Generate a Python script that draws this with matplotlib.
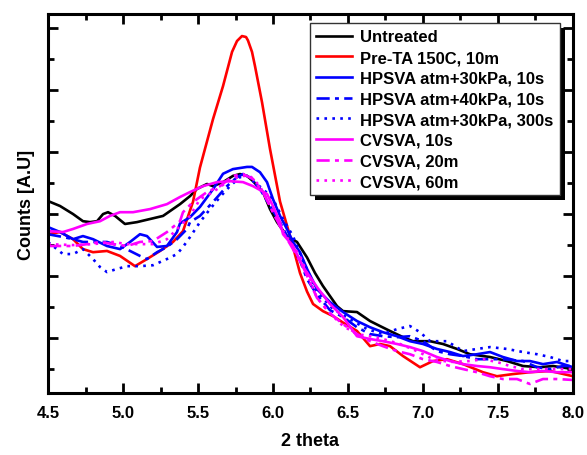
import matplotlib
matplotlib.use("Agg")
import matplotlib.pyplot as plt
from matplotlib.patches import Rectangle
from matplotlib.transforms import IdentityTransform
from matplotlib.ticker import MultipleLocator, FormatStrFormatter

plt.rcParams['font.family'] = ['Liberation Sans', 'DejaVu Sans']
plt.rcParams['font.weight'] = 'bold'

labels = ["Untreated", "Pre-TA 150C, 10m", "HPSVA atm+30kPa, 10s",
          "HPSVA atm+40kPa, 10s", "HPSVA atm+30kPa, 300s",
          "CVSVA, 10s", "CVSVA, 20m", "CVSVA, 60m"]

x_untreated = [4.5, 4.58, 4.667, 4.733, 4.78, 4.827, 4.867, 4.9, 4.947, 5.013, 5.093, 5.18, 5.267, 5.38,
               5.447, 5.493, 5.56, 5.6, 5.667, 5.733, 5.78, 5.827, 5.867, 5.933, 5.98, 6.027, 6.093, 6.16,
               6.227, 6.28, 6.333, 6.427, 6.467, 6.56, 6.647, 6.713, 6.78, 6.867, 6.933, 7.047, 7.133,
               7.227, 7.313, 7.447, 7.56, 7.667, 7.78, 7.867, 8.0]
y_untreated = [5.42, 5.26, 5.0, 4.77, 4.74, 4.77, 5.0, 5.06, 4.94, 4.68, 4.74, 4.84, 4.94, 5.32,
               5.58, 5.81, 5.97, 5.90, 6.03, 6.23, 6.29, 6.23, 6.06, 5.71, 5.16, 4.74, 4.29, 4.10,
               3.6, 3.1, 2.68, 2.03, 1.87, 1.84, 1.55, 1.39, 1.23, 1.03, 0.90, 0.90, 0.81,
               0.65, 0.48, 0.39, 0.26, 0.10, 0.06, 0.10, 0.0]

x_preta = [4.5, 4.58, 4.667, 4.733, 4.8, 4.893, 4.98, 5.08, 5.16, 5.247, 5.333, 5.4, 5.467, 5.513,
           5.6, 5.667, 5.727, 5.76, 5.793, 5.82, 5.833, 5.86, 5.88, 5.927, 5.98, 6.047, 6.113, 6.18,
           6.227, 6.267, 6.333, 6.4, 6.467, 6.56, 6.647, 6.713, 6.78, 6.867, 6.98, 7.067, 7.16,
           7.267, 7.4, 7.493, 7.6, 7.713, 7.847, 8.0]
y_preta = [4.35, 4.42, 4.19, 3.87, 3.77, 3.81, 3.65, 3.32, 3.55, 3.81, 4.10, 4.45, 5.4, 6.5,
           8.06, 9.13, 10.23, 10.58, 10.74, 10.71, 10.6, 10.23, 9.77, 8.6, 7.1, 5.4, 4.3, 3.1,
           2.5, 2.1, 1.87, 1.71, 1.5, 1.23, 0.74, 0.81, 0.74, 0.42, 0.06, 0.26, 0.32,
           0.16, -0.10, -0.23, -0.16, -0.10, -0.06, -0.23]

x_hp30_10s = [4.5, 4.58, 4.667, 4.733, 4.8, 4.893, 4.98, 5.047, 5.113, 5.16, 5.227, 5.293, 5.36, 5.38,
              5.447, 5.513, 5.6, 5.667, 5.733, 5.827, 5.86, 5.913, 5.96, 6.0, 6.047, 6.093, 6.133,
              6.18, 6.227, 6.293, 6.38, 6.467, 6.56, 6.647, 6.733, 6.827, 6.913, 7.0, 7.093, 7.18,
              7.267, 7.36, 7.447, 7.533, 7.627, 7.713, 7.8, 7.893, 8.0]
y_hp30_10s = [4.58, 4.42, 4.19, 4.29, 4.19, 3.97, 3.87, 4.10, 4.35, 4.29, 3.94, 3.97, 4.42, 4.7,
              4.9, 5.23, 5.8, 6.3, 6.45, 6.52, 6.52, 6.35, 6.03, 5.48, 4.94, 4.52, 4.1,
              3.77, 3.23, 2.58, 2.16, 1.84, 1.55, 1.35, 1.19, 1.06, 0.90, 0.81, 0.65, 0.55,
              0.42, 0.48, 0.55, 0.39, 0.26, 0.26, 0.16, 0.23, 0.06]

x_hp40_10s = [4.5, 4.6, 4.667, 4.733, 4.8, 4.893, 4.98, 5.047, 5.113, 5.16, 5.227, 5.293, 5.36, 5.427,
              5.447, 5.513, 5.6, 5.693, 5.76, 5.8, 5.847, 5.913, 5.98, 6.047, 6.113, 6.18, 6.227,
              6.293, 6.38, 6.467, 6.56, 6.647, 6.733, 6.827, 6.913, 7.0, 7.093, 7.18, 7.267, 7.36,
              7.447, 7.533, 7.667, 7.76, 7.847, 7.933, 8.0]
y_hp40_10s = [4.35, 4.26, 4.19, 4.10, 4.10, 4.10, 3.97, 3.81, 3.65, 3.55, 3.77, 3.94, 4.19, 4.52,
              4.74, 4.94, 5.39, 5.90, 6.19, 6.29, 6.19, 5.81, 5.26, 4.74, 4.10, 3.5, 2.9,
              2.4, 1.9, 1.68, 1.35, 1.13, 1.06, 1.03, 1.06, 0.90, 0.58, 0.48, 0.42, 0.32,
              0.32, 0.32, 0.26, 0.06, 0.0, 0.10, 0.10]

x_hp30_300s = [4.5, 4.6, 4.667, 4.733, 4.8, 4.847, 4.893, 4.96, 5.027, 5.113, 5.2, 5.293, 5.36, 5.4,
               5.447, 5.513, 5.58, 5.647, 5.713, 5.78, 5.827, 5.867, 5.933, 6.0, 6.067, 6.133, 6.2,
               6.293, 6.4, 6.513, 6.627, 6.733, 6.827, 6.913, 6.98, 7.047, 7.16, 7.267, 7.36, 7.447,
               7.56, 7.667, 7.76, 7.847, 7.933, 8.0]
y_hp30_300s = [4.10, 3.71, 3.71, 3.87, 3.55, 3.29, 3.13, 3.23, 3.32, 3.32, 3.35, 3.55, 3.71, 3.94,
               4.26, 4.74, 5.16, 5.55, 5.9, 6.19, 6.23, 6.06, 5.81, 5.48, 4.84, 4.29, 3.5,
               2.5, 1.94, 1.61, 1.29, 1.13, 1.29, 1.39, 1.19, 0.90, 0.90, 0.58, 0.65, 0.71,
               0.65, 0.55, 0.48, 0.39, 0.26, 0.26]

x_cv10s = [4.5, 4.6, 4.667, 4.76, 4.847, 4.913, 4.98, 5.067, 5.18, 5.293, 5.38, 5.447, 5.533, 5.627,
           5.713, 5.8, 5.867, 5.96, 6.0, 6.047, 6.067, 6.133, 6.2, 6.3, 6.38, 6.467, 6.56, 6.647,
           6.733, 6.827, 6.913, 7.0, 7.093, 7.18, 7.267, 7.36, 7.447, 7.533, 7.627, 7.713, 7.8,
           7.893, 8.0]
y_cv10s = [4.45, 4.42, 4.52, 4.68, 4.77, 4.94, 5.06, 5.06, 5.16, 5.32, 5.55, 5.71, 5.90, 6.03,
           6.06, 6.03, 5.90, 5.65, 5.26, 4.74, 4.35, 3.97, 3.3, 2.6, 2.1, 1.68, 1.06, 0.97,
           0.90, 0.81, 0.71, 0.58, 0.39, 0.26, 0.16, 0.10, 0.06, 0.0, -0.06, -0.10, -0.06,
           -0.10, -0.10]

x_cv20m = [4.5, 4.6, 4.667, 4.76, 4.847, 4.933, 5.027, 5.113, 5.2, 5.293, 5.38, 5.4, 5.467, 5.56,
           5.647, 5.733, 5.8, 5.867, 5.933, 6.0, 6.067, 6.133, 6.2, 6.293, 6.38, 6.467, 6.56,
           6.647, 6.733, 6.827, 6.913, 7.0, 7.093, 7.18, 7.267, 7.36, 7.447, 7.533, 7.627, 7.713,
           7.8, 7.893, 8.0]
y_cv20m = [3.97, 3.97, 3.97, 4.03, 4.10, 4.03, 3.97, 4.10, 4.13, 4.42, 4.77, 5.06, 5.39, 5.71,
           5.90, 6.23, 6.29, 6.13, 5.71, 5.06, 4.42, 3.87, 3.3, 2.3, 1.8, 1.45, 1.13,
           0.90, 0.74, 0.58, 0.48, 0.32, 0.23, 0.10, 0.0, -0.10, -0.23, -0.32, -0.32, -0.48,
           -0.32, -0.32, -0.35]

x_cv60m = [4.5, 4.667, 4.8, 4.933, 5.027, 5.113, 5.2, 5.293, 5.38, 5.447, 5.513, 5.6, 5.693, 5.78,
           5.847, 5.913, 5.98, 6.047, 6.113, 6.18, 6.293, 6.38, 6.467, 6.56, 6.647, 6.733, 6.847,
           6.96, 7.067, 7.18, 7.313, 7.4, 7.493, 7.58, 7.667, 7.76, 7.847, 8.0]
y_cv60m = [4.03, 4.0, 4.03, 4.10, 4.03, 4.03, 4.03, 4.19, 4.61, 4.94, 5.48, 5.71, 6.03, 6.23,
           6.23, 5.90, 5.26, 4.61, 4.10, 3.65, 2.3, 1.8, 1.39, 1.13, 1.06, 0.97, 0.81,
           0.58, 0.32, 0.23, 0.26, 0.32, 0.23, 0.10, 0.0, 0.0, 0.0, 0.0]

series = [
    (x_untreated, y_untreated, '#000000', '-'),
    (x_preta, y_preta, '#ff0000', '-'),
    (x_hp30_10s, y_hp30_10s, '#0000ff', '-'),
    (x_hp40_10s, y_hp40_10s, '#0000ff', (0, (5, 2, 1.5, 2))),
    (x_hp30_300s, y_hp30_300s, '#0000ff', (0, (1, 2))),
    (x_cv10s, y_cv10s, '#ff00ff', '-'),
    (x_cv20m, y_cv20m, '#ff00ff', (0, (5, 2, 1.5, 2))),
    (x_cv60m, y_cv60m, '#ff00ff', (0, (1, 2))),
]

fig = plt.figure(figsize=(5.87, 4.56), dpi=100, facecolor='white')
ax = fig.add_axes([0.0818, 0.136, 0.8943, 0.831])

for (xs, ys, c, ls), lab in zip(series, labels):
    ax.plot(xs, ys, color=c, linestyle=ls, lw=1.9, label=lab,
            solid_joinstyle='round', dash_joinstyle='round')

ax.set_xlim(4.5, 8.0)
ax.set_ylim(-0.77, 11.45)
ax.xaxis.set_major_locator(MultipleLocator(0.5))
ax.xaxis.set_minor_locator(MultipleLocator(0.25))
ax.set_yticks([1, 3, 5, 7, 9, 11])
ax.set_yticks([0, 2, 4, 6, 8, 10], minor=True)
ax.set_yticklabels([])
ax.xaxis.set_major_formatter(FormatStrFormatter('%.1f'))
ax.tick_params(which='both', direction='in', top=True, right=True, width=2)
ax.tick_params(which='major', length=7)
ax.tick_params(which='minor', length=4.5)
ax.tick_params(axis='x', labelsize=12, pad=9)
for lab in ax.get_xticklabels():
    lab.set_fontweight('bold')
for s in ax.spines.values():
    s.set_linewidth(2.2)

ax.set_xlabel('2 theta', fontsize=13, fontweight='bold', labelpad=8)
ax.set_ylabel('Counts [A.U]', fontsize=13, fontweight='bold', labelpad=6)

leg = ax.legend(loc='upper right', bbox_to_anchor=(0.975, 0.976), frameon=True, fancybox=False,
                edgecolor='#333333', framealpha=1, prop={'weight': 'bold', 'size': 12},
                handlelength=2.15, handletextpad=0.5, labelspacing=0.34, borderpad=0.38,
                borderaxespad=0.0)
leg.get_frame().set_linewidth(1.0)
leg.set_zorder(6)

fig.canvas.draw()
bb = leg.get_window_extent()
shadow = Rectangle((bb.x0 + 5, bb.y0 - 5), bb.width, bb.height, facecolor='black',
                   edgecolor='none', transform=IdentityTransform(), zorder=5)
ax.add_artist(shadow)

fig.savefig('out.png', dpi=100, facecolor='white')
